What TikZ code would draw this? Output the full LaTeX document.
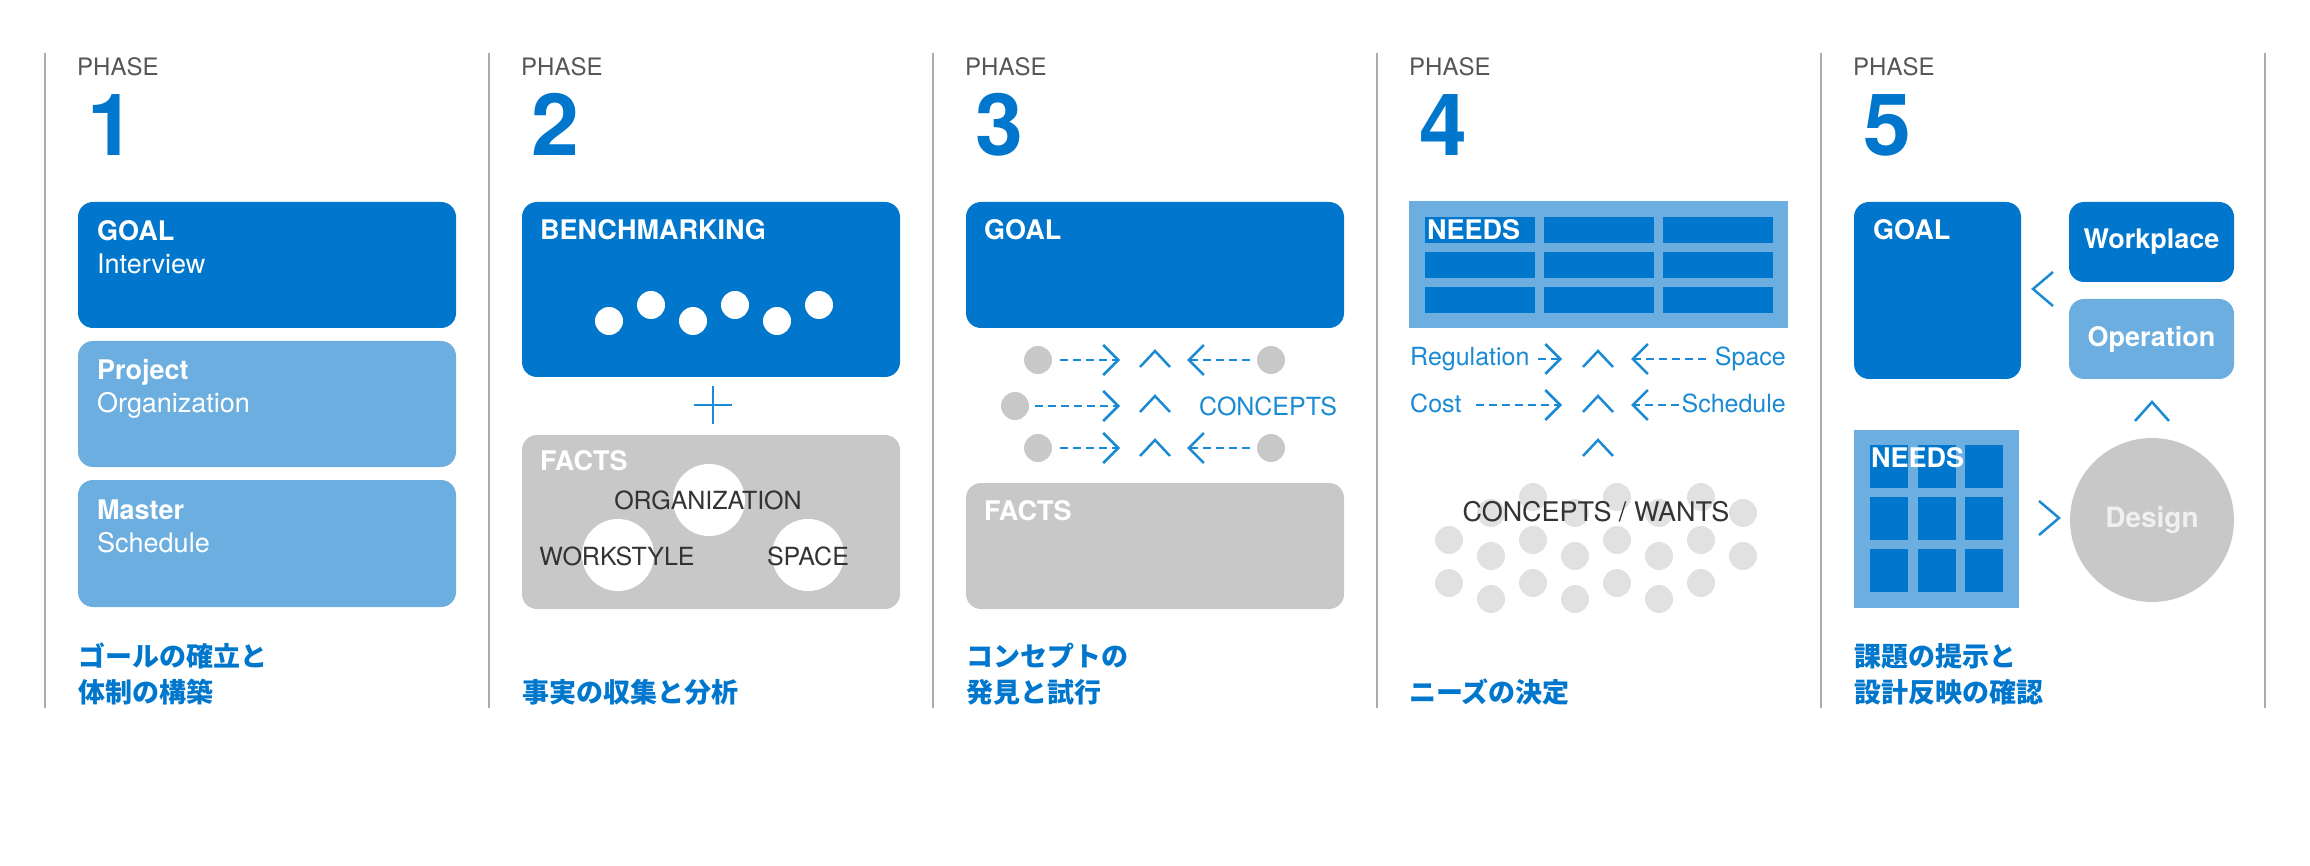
\documentclass[tikz,border=0pt]{standalone}
\usepackage{xcolor}
\usepackage{fontspec}
\setmainfont{TeX Gyre Heros}
\newfontfamily\jpfont{Noto Sans CJK JP}
\usepackage{tikz}
\usetikzlibrary{arrows.meta}

\definecolor{boxblue}{HTML}{0077CC}
\definecolor{lightblue}{HTML}{6CAEE0}
\definecolor{arrowblue}{HTML}{1A8AD4}
\definecolor{factgray}{HTML}{C8C8C8}
\definecolor{dotgray}{HTML}{E1E1E1}
\definecolor{textgray}{HTML}{333333}
\definecolor{phasegray}{HTML}{555555}
\definecolor{rulegray}{HTML}{ABABAB}

\begin{document}
\begin{tikzpicture}[x=1pt, y=-1pt,
    phase/.style={anchor=base west, inner sep=0pt, text=phasegray, font=\fontsize{24}{28}\selectfont},
    digit/.style={anchor=base west, inner sep=0pt, text=boxblue, font=\fontsize{86}{90}\selectfont\bfseries},
    title/.style={anchor=base west, inner sep=0pt, text=white, font=\fontsize{27}{32}\selectfont\bfseries},
    sub/.style={anchor=base west, inner sep=0pt, text=white, font=\fontsize{27}{32}\selectfont},
    darklabel/.style={anchor=base, inner sep=0pt, text=textgray, font=\fontsize{25}{30}\selectfont},
    bluelabel/.style={inner sep=0pt, text=arrowblue, font=\fontsize{25}{30}\selectfont},
    jp/.style={anchor=base west, inner sep=0pt, text=boxblue, font=\fontsize{27}{32}\selectfont\jpfont\bfseries},
    graydot/.style={circle, fill=factgray, minimum size=28pt, inner sep=0pt},
    dasharrow/.style={arrowblue, line width=2.5pt, dash pattern=on 8pt off 5pt,
        -{Straight Barb[length=15pt, width=30pt]}},
    chev/.style={arrowblue, line width=2.5pt}]
    \useasboundingbox (0,0) rectangle (2310,866);
    % Column rules
    \foreach \i in {0,...,5}
        \draw[rulegray, line width=1.2pt] ({45+444*\i},53) -- ({45+444*\i},708);
    % Phase headings
    \foreach \n [count=\i from 0] in {1,...,5} {
        \node[phase] (phase\n) at ({77+444*\i},76) {PHASE};
        \node[digit] (num\n) at ({87+444*\i},156) {\n};
    }

    % Phase 1
    \fill[boxblue, rounded corners=15pt] (78,202) rectangle (456,328);
    \fill[lightblue, rounded corners=15pt] (78,341) rectangle (456,467);
    \fill[lightblue, rounded corners=15pt] (78,480) rectangle (456,607);
    \node[title] (goalA) at (97,241) {GOAL};
    \node[sub] (interview) at (97,274) {Interview};
    \node[title] (project) at (97,380) {Project};
    \node[sub] (organization) at (97,413) {Organization};
    \node[title] (master) at (97,519) {Master};
    \node[sub] (schedule) at (97,552) {Schedule};
    \node[jp] (jpA1) at (78,666) {ゴールの確立と};
    \node[jp] (jpA2) at (78,702) {体制の構築};

    % Phase 2
    \fill[boxblue, rounded corners=15pt] (522,202) rectangle (900,377);
    \node[title] (bench) at (540,240) {BENCHMARKING};
    \foreach \x/\y in {609/321, 651/305, 693/321, 735/305, 777/321, 819/305}
        \fill[white] (\x,\y) circle (14pt);
    \draw[chev] (694,405) -- (732,405);
    \draw[chev] (713,386) -- (713,424);
    \fill[factgray, rounded corners=15pt] (522,435) rectangle (900,609);
    \node[title] (factsB) at (540,470) {FACTS};
    \fill[white] (709,500) circle (36pt);
    \fill[white] (618,555) circle (36pt);
    \fill[white] (808,555) circle (36pt);
    \node[darklabel] (orgB) at (708,509) {ORGANIZATION};
    \node[darklabel] (workB) at (617,565) {WORKSTYLE};
    \node[darklabel] (spaceB) at (808,565) {SPACE};
    \node[jp] (jpB) at (522,702) {事実の収集と分析};

    % Phase 3
    \fill[boxblue, rounded corners=15pt] (966,202) rectangle (1344,328);
    \node[title] (goalC) at (984,240) {GOAL};
    \node[graydot] (inA) at (1038,360) {};
    \node[graydot] (inB) at (1015,406) {};
    \node[graydot] (inC) at (1038,448) {};
    \node[graydot] (outA) at (1271,360) {};
    \node[graydot] (outC) at (1271,448) {};
    \coordinate (tipA) at (1120,360);
    \coordinate (tipB) at (1120,406);
    \coordinate (tipC) at (1120,448);
    \coordinate (backA) at (1187,360);
    \coordinate (backC) at (1187,448);
    \draw[dasharrow, shorten <=8pt] (inA.east) -- (tipA);
    \draw[dasharrow, shorten <=6pt] (inB.east) -- (tipB);
    \draw[dasharrow, shorten <=8pt] (inC.east) -- (tipC);
    \draw[dasharrow, shorten <=7pt] (outA.west) -- (backA);
    \draw[dasharrow, shorten <=7pt] (outC.west) -- (backC);
    \foreach \y in {351,396,440}
        \draw[chev] (1140,\y+16) -- (1155,\y) -- (1170,\y+16);
    \node[bluelabel, anchor=base west] (concepts) at (1199,415) {CONCEPTS};
    \fill[factgray, rounded corners=15pt] (966,483) rectangle (1344,609);
    \node[title] (factsC) at (984,520) {FACTS};
    \node[jp] (jpC1) at (966,666) {コンセプトの};
    \node[jp] (jpC2) at (966,702) {発見と試行};

    % Phase 4
    \fill[lightblue] (1409,201) rectangle (1788,328);
    \foreach \x in {1425,1544,1663}
        \foreach \y in {217,252,287}
            \fill[boxblue] (\x,\y) rectangle ++(110,26);
    \node[title] (needsD) at (1427,240) {NEEDS};
    \node[bluelabel, anchor=base west] (regulation) at (1410,366) {Regulation};
    \node[bluelabel, anchor=base west] (cost) at (1410,412) {Cost};
    \node[bluelabel, anchor=base east] (space) at (1786,366) {Space};
    \node[bluelabel, anchor=base east] (sched) at (1786,412) {Schedule};
    \coordinate (regTip) at (1562,359);
    \coordinate (costTip) at (1562,405);
    \coordinate (spaceTip) at (1631,359);
    \coordinate (schedTip) at (1631,405);
    \draw[dasharrow, shorten <=8pt] (regulation.east |- regTip) -- (regTip);
    \draw[dasharrow, shorten <=14pt] (cost.east |- costTip) -- (costTip);
    \draw[dasharrow, shorten <=9pt] (space.west |- spaceTip) -- (spaceTip);
    \draw[dasharrow, shorten <=2pt] (sched.west |- schedTip) -- (schedTip);
    \foreach \y in {351,396,440}
        \draw[chev] (1583,\y+16) -- (1598,\y) -- (1613,\y+16);
    % Wants cloud
    \foreach \x/\y in {1533/497, 1617/497, 1701/497,
                      1449/540, 1533/540, 1617/540, 1701/540,
                      1449/583, 1533/583, 1617/583, 1701/583,
                      1491/513, 1575/513, 1659/513, 1743/513,
                      1491/556, 1575/556, 1659/556, 1743/556,
                      1491/599, 1575/599, 1659/599}
        \fill[dotgray] (\x,\y) circle (14pt);
    \node[darklabel, font=\fontsize{27}{32}\selectfont] (wants) at (1596,521) {CONCEPTS / WANTS};
    \node[jp] (jpD) at (1409,702) {ニーズの決定};

    % Phase 5
    \fill[boxblue, rounded corners=15pt] (1854,202) rectangle (2021,379);
    \node[title] (goalE) at (1873,240) {GOAL};
    \node[fill=boxblue, rounded corners=15pt, minimum width=165pt, minimum height=80pt,
        inner sep=0pt, text=white, font=\fontsize{27}{32}\selectfont\bfseries] (workplace) at (2151.5,242) {Workplace};
    \node[fill=lightblue, rounded corners=15pt, minimum width=165pt, minimum height=80pt,
        inner sep=0pt, text=white, font=\fontsize{27}{32}\selectfont\bfseries] (operation) at (2151.5,339) {Operation};
    \draw[chev] (2053,272) -- (2033,289) -- (2053,306);
    \draw[chev] (2135,421) -- (2152,402) -- (2169,421);
    \fill[lightblue] (1854,430) rectangle (2019,608);
    \foreach \x in {1870,1918,1965}
        \foreach \y in {445,497,549}
            \fill[boxblue] (\x,\y) rectangle ++(38,43);
    \node[title] (needsE) at (1871,467) {NEEDS};
    \draw[chev] (2039,501) -- (2059,518) -- (2039,535);
    \node[circle, fill=factgray, minimum size=164pt, inner sep=0pt, text=white!94!black,
        font=\fontsize{28}{32}\selectfont\bfseries] (design) at (2152,520) {Design};
    \node[jp] (jpE1) at (1854,666) {課題の提示と};
    \node[jp] (jpE2) at (1854,702) {設計反映の確認};
\end{tikzpicture}
\end{document}
